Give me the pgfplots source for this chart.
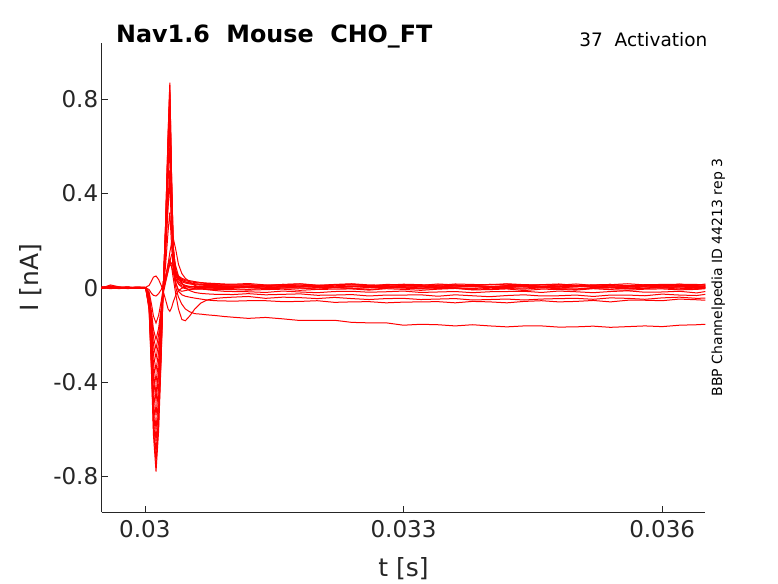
\documentclass[border=0pt]{standalone}
\usepackage{fontspec}
\setmainfont{DejaVu Sans}
\usepackage{pgfplots}
\usepackage{pgfplotstable}
\pgfplotsset{compat=1.18}
\definecolor{axgray}{rgb}{0.15,0.15,0.15}

\pgfplotstableread{
t c1 c2 c3 c4 c5 c6 c7 c8 c9 c10 c11 c12 c13 c14 c15 c16
0.02950 0.002 -0.003 0.001 -0.004 0.004 -0.002 0.000 0.003 -0.001 0.002 -0.003 0.001 0.000 -0.002 0.003 -0.001
0.02960 0.008 0.012 -0.002 0.003 -0.001 0.006 0.002 -0.003 0.004 0.001 0.005 -0.004 0.003 0.000 0.007 0.002
0.02970 -0.002 0.004 0.003 0.000 -0.003 0.002 -0.004 0.001 0.002 -0.002 0.003 0.000 -0.001 0.002 -0.003 0.001
0.02980 0.001 -0.002 -0.004 0.002 0.003 -0.003 0.001 0.004 -0.001 0.000 0.002 -0.002 0.003 -0.001 0.000 0.002
0.02990 -0.003 0.001 0.002 -0.002 0.000 0.003 -0.001 -0.002 0.002 0.003 -0.003 0.001 -0.001 0.000 0.002 -0.002
0.03001 0.000 -0.001 0.001 0.000 -0.002 0.001 0.000 -0.001 0.000 0.001 0.000 0.002 0.000 -0.002 0.001 0.000
0.03005 -0.094 -0.089 -0.084 -0.078 -0.072 -0.065 -0.058 -0.048 -0.036 -0.026 -0.018 0.010 -0.008 -0.042 -0.031 -0.054
0.03008 -0.390 -0.370 -0.350 -0.325 -0.300 -0.270 -0.240 -0.200 -0.150 -0.110 -0.075 0.030 -0.025 -0.175 -0.130 -0.225
0.03010 -0.624 -0.592 -0.560 -0.520 -0.480 -0.432 -0.384 -0.320 -0.240 -0.176 -0.120 0.045 -0.032 -0.280 -0.208 -0.360
0.03013 -0.780 -0.740 -0.700 -0.650 -0.600 -0.540 -0.480 -0.400 -0.300 -0.220 -0.150 0.050 -0.035 -0.350 -0.260 -0.450
0.03016 -0.608 -0.577 -0.546 -0.507 -0.468 -0.421 -0.374 -0.312 -0.234 -0.172 -0.117 0.035 -0.025 -0.273 -0.200 -0.350
0.03019 -0.296 -0.281 -0.266 -0.247 -0.228 -0.205 -0.182 -0.152 -0.114 -0.084 -0.057 0.010 -0.008 -0.133 -0.100 -0.170
0.03021 -0.039 -0.037 -0.035 -0.033 -0.030 -0.027 -0.024 -0.020 -0.020 -0.030 -0.010 -0.010 0.010 -0.020 -0.020 -0.023
0.03024 0.261 0.258 0.252 0.240 0.225 0.204 0.180 0.150 0.040 0.020 0.030 -0.050 0.050 0.090 0.040 0.135
0.03027 0.653 0.645 0.630 0.600 0.563 0.510 0.450 0.375 0.100 0.070 0.070 -0.090 0.090 0.240 0.100 0.340
0.03029 0.870 0.860 0.840 0.800 0.750 0.680 0.600 0.500 0.150 0.110 0.100 -0.100 0.100 0.320 0.120 0.450
0.03031 0.479 0.473 0.462 0.440 0.413 0.374 0.330 0.275 0.190 0.140 0.105 -0.085 0.090 0.180 0.090 0.250
0.03033 0.174 0.172 0.168 0.160 0.150 0.136 0.140 0.100 0.210 0.130 0.090 -0.060 0.065 0.070 0.040 0.090
0.03036 0.065 0.060 0.070 0.050 0.055 0.040 0.070 0.020 0.160 0.090 0.060 -0.030 0.035 0.000 -0.030 0.020
0.03039 0.045 0.040 0.050 0.025 0.035 0.015 0.045 -0.010 0.100 0.050 0.035 -0.012 0.018 -0.040 -0.090 -0.015
0.03043 0.036 0.030 0.040 0.015 0.025 0.002 0.032 -0.015 0.060 0.020 0.018 -0.002 0.008 -0.070 -0.135 -0.030
0.03047 0.030 0.024 0.034 0.010 0.020 -0.004 0.025 -0.012 0.040 0.000 0.008 0.003 0.004 -0.090 -0.140 -0.036
0.03052 0.026 0.020 0.030 0.006 0.016 -0.006 0.020 -0.008 0.025 -0.012 0.000 0.005 0.003 -0.102 -0.120 -0.040
0.03058 0.022 0.016 0.026 0.004 0.013 -0.006 0.017 -0.005 0.010 -0.020 -0.004 0.006 0.002 -0.110 -0.090 -0.044
0.03065 0.020 0.014 0.022 0.003 0.011 -0.005 0.015 -0.003 0.000 -0.024 -0.006 0.006 0.002 -0.112 -0.065 -0.048
0.03072 0.018 0.012 0.020 0.002 0.010 -0.005 0.014 -0.002 -0.008 -0.026 -0.007 0.006 0.002 -0.115 -0.052 -0.052
0.03082 0.016 0.010 0.018 0.002 0.009 -0.004 0.013 -0.001 -0.012 -0.028 -0.008 0.006 0.002 -0.118 -0.045 -0.055
0.03092 0.014 0.008 0.016 0.002 0.008 -0.004 0.012 0.000 -0.015 -0.028 -0.008 0.006 0.002 -0.122 -0.042 -0.056
0.03102 0.012 0.007 0.015 0.002 0.008 -0.004 0.012 0.000 -0.016 -0.029 -0.008 0.006 0.002 -0.125 -0.040 -0.057
0.0312 0.013 0.008 0.018 0.002 0.007 -0.007 0.013 0.000 -0.017 -0.025 -0.010 0.001 0.006 -0.130 -0.037 -0.055
0.0314 0.008 0.011 0.012 -0.001 0.004 -0.003 0.009 -0.003 -0.020 -0.030 -0.008 0.007 0.002 -0.126 -0.045 -0.055
0.0316 0.014 0.005 0.013 0.004 0.010 -0.002 0.014 0.004 -0.014 -0.028 -0.006 0.006 -0.001 -0.132 -0.040 -0.059
0.0318 0.011 0.006 0.016 0.005 0.008 -0.001 0.017 -0.002 -0.018 -0.026 -0.011 0.003 0.004 -0.139 -0.042 -0.058
0.0320 0.007 0.009 0.010 0.001 0.006 -0.006 0.011 -0.001 -0.021 -0.032 -0.007 0.010 0.005 -0.138 -0.046 -0.055
0.0322 0.012 0.002 0.014 0.003 0.011 0.000 0.012 0.002 -0.016 -0.031 -0.006 0.004 0.001 -0.138 -0.041 -0.062
0.0324 0.015 0.008 0.017 0.006 0.007 -0.003 0.015 -0.004 -0.015 -0.029 -0.005 0.005 0.003 -0.147 -0.046 -0.060
0.0326 0.009 0.007 0.012 0.000 0.006 -0.007 0.008 0.000 -0.019 -0.035 -0.010 0.008 0.006 -0.149 -0.050 -0.059
0.0328 0.010 0.004 0.011 0.002 0.005 -0.002 0.014 0.003 -0.017 -0.031 -0.004 0.002 0.000 -0.149 -0.046 -0.064
0.0330 0.013 0.010 0.015 0.004 0.010 0.001 0.013 -0.002 -0.014 -0.031 -0.007 0.006 0.002 -0.159 -0.045 -0.061
0.0332 0.006 0.006 0.013 -0.001 0.004 -0.005 0.010 -0.003 -0.020 -0.030 -0.011 0.009 0.004 -0.155 -0.050 -0.060
0.0334 0.012 0.003 0.010 0.003 0.007 -0.004 0.016 0.001 -0.018 -0.036 -0.006 0.004 -0.001 -0.157 -0.048 -0.059
0.0336 0.011 0.008 0.016 0.004 0.011 -0.001 0.012 -0.001 -0.016 -0.030 -0.003 0.003 0.003 -0.162 -0.046 -0.064
0.0338 0.008 0.009 0.014 0.005 0.006 -0.008 0.009 -0.004 -0.021 -0.034 -0.009 0.007 0.004 -0.157 -0.052 -0.058
0.0340 0.014 0.005 0.012 0.000 0.003 -0.002 0.014 0.002 -0.017 -0.038 -0.008 0.005 0.005 -0.162 -0.050 -0.060
0.0342 0.010 0.007 0.017 0.006 0.009 -0.003 0.015 0.000 -0.016 -0.033 -0.005 0.002 0.000 -0.166 -0.048 -0.064
0.0344 0.007 0.010 0.013 0.003 0.008 -0.006 0.011 -0.002 -0.015 -0.030 -0.012 0.008 0.006 -0.162 -0.052 -0.058
0.0346 0.012 0.004 0.012 -0.001 0.005 0.000 0.013 0.003 -0.020 -0.035 -0.006 0.006 0.003 -0.162 -0.048 -0.055
0.0348 0.013 0.006 0.011 0.004 0.012 -0.004 0.016 -0.001 -0.014 -0.034 -0.007 0.004 -0.001 -0.167 -0.046 -0.060
0.0350 0.009 0.008 0.016 0.007 0.006 -0.007 0.010 -0.002 -0.017 -0.031 -0.010 0.009 0.004 -0.166 -0.045 -0.058
0.0352 0.011 0.003 0.010 0.001 0.007 -0.002 0.012 -0.003 -0.021 -0.037 -0.004 0.005 0.007 -0.163 -0.049 -0.054
0.0354 0.014 0.007 0.013 0.002 0.010 -0.001 0.014 0.002 -0.016 -0.031 -0.008 0.004 0.001 -0.168 -0.043 -0.060
0.0356 0.008 0.008 0.017 0.005 0.004 -0.005 0.009 -0.004 -0.013 -0.031 -0.011 0.003 0.002 -0.165 -0.045 -0.053
0.0358 0.010 0.009 0.012 -0.002 0.008 -0.003 0.013 -0.001 -0.019 -0.034 -0.006 0.008 0.005 -0.162 -0.049 -0.053
0.0360 0.012 0.004 0.009 0.004 0.011 0.000 0.014 0.003 -0.018 -0.027 -0.005 0.002 -0.002 -0.165 -0.043 -0.055
0.0362 0.007 0.010 0.015 0.003 0.006 -0.006 0.015 -0.002 -0.015 -0.031 -0.009 0.005 0.004 -0.159 -0.040 -0.048
0.0364 0.011 0.007 0.014 0.000 0.005 -0.004 0.010 -0.005 -0.022 -0.033 -0.007 0.009 0.003 -0.157 -0.045 -0.051
0.0365 0.012 0.003 0.011 0.006 0.009 -0.002 0.016 0.001 -0.016 -0.028 -0.004 0.004 0.000 -0.155 -0.044 -0.053
}\data

\begin{document}
\begin{tikzpicture}
\begin{axis}[
  name=ax,
  scale only axis,
  width=603.6pt, height=469.6pt,
  xmin=0.0295, xmax=0.0365,
  ymin=-0.953, ymax=1.04,
  axis lines*=left,
  axis line style={-, draw=axgray, line width=0.6pt},
  tick align=inside,
  major tick length=6.5pt,
  tick style={draw=axgray, line width=0.6pt},
  xtick={0.03,0.033,0.036},
  xticklabels={0.03,0.033,0.036},
  ytick={-0.8,-0.4,0,0.4,0.8},
  yticklabels={-0.8,-0.4,0,0.4,0.8},
  ticklabel style={font=\fontsize{23}{23}\selectfont, text=axgray},
  xticklabel style={yshift=-5pt},
  scaled x ticks=false,
  xlabel={t [s]},
  ylabel={I [nA]},
  label style={font=\fontsize{25}{25}\selectfont, text=axgray},
  xlabel style={at={(axis description cs:0.5,-0.1193)}, anchor=center},
  ylabel style={at={(axis description cs:-0.1171,0.5)}, anchor=center},
  title={Nav1.6\ \ Mouse\ \ CHO\_FT},
  title style={font=\bfseries\fontsize{23.8}{23.8}\selectfont, at={(axis description cs:0.0237,1.0004)}, anchor=base west, inner sep=0pt, yshift=-6pt},
  tr/.style={color=red, line width=1pt, no markers},
]
\pgfplotsinvokeforeach{1,...,16}{\addplot[tr] table[x=t,y=c#1]{\data};}
\end{axis}
\node[anchor=base east, inner sep=0pt, font=\fontsize{18.5}{18.5}\selectfont] at ([xshift=2.2pt,yshift=-4.3pt]ax.north east) {37\ \ Activation};
\node[anchor=base, rotate=90, inner sep=0pt, font=\fontsize{14}{14}\selectfont] at ([xshift=16.7pt]ax.east) {BBP Channelpedia ID 44213 rep 3};
\path[use as bounding box] (ax.south west) ++(-101.7pt,-70.7pt) rectangle ++(778pt,583pt);
\end{tikzpicture}
\end{document}
